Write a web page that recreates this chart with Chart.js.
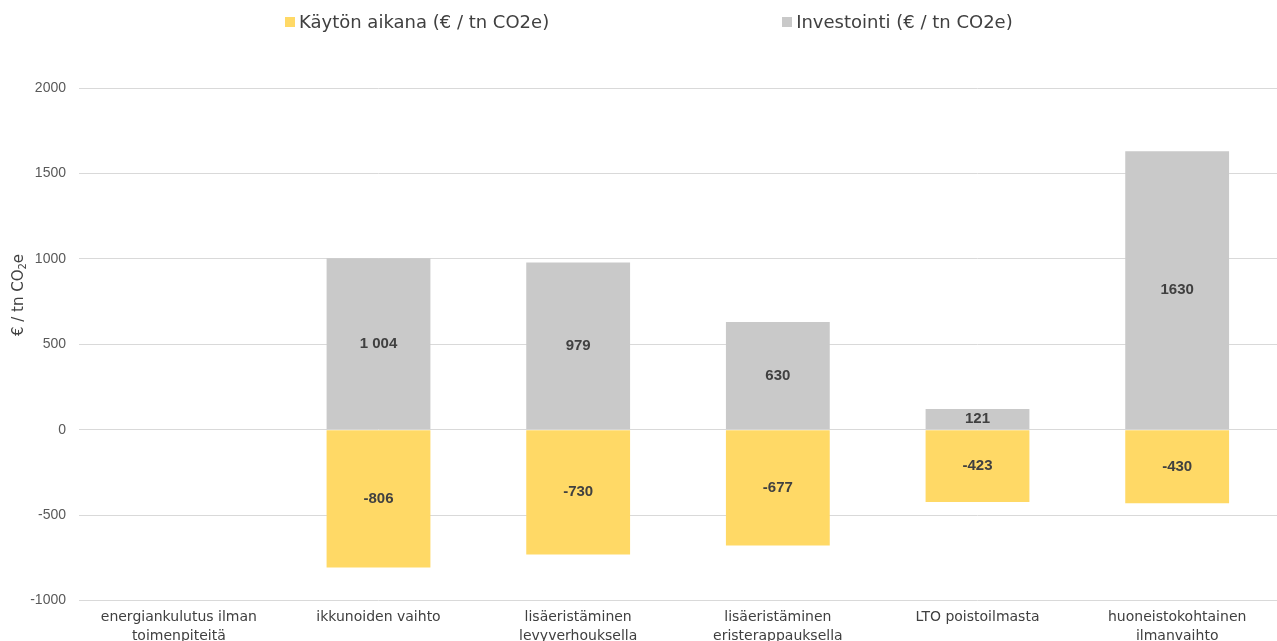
<!DOCTYPE html>
<html>
<head>
<meta charset="utf-8">
<script src="https://cdn.jsdelivr.net/npm/chart.js@4.4.1/dist/chart.umd.min.js"></script>
<style>
  body { margin: 0; width: 1277px; height: 641px; overflow: hidden; background: #fff; }
  .wrap { position: relative; width: 1277px; height: 653px; }
  .legend { position: absolute; top: 11px; left: 285px; display: flex; gap: 233px;
            font-family: "DejaVu Sans", sans-serif; font-size: 18px; color: #404040; }
  .legend span.box { display: inline-block; width: 10px; height: 10px; margin-right: 4px; }
  .legend div { display: flex; align-items: center; white-space: nowrap; }
</style>
</head>
<body>
<div class="wrap">
  <div class="legend" id="legend"></div>
  <canvas id="costChart" width="1277" height="653"></canvas>
</div>
<script>
const categories = [
  ['energiankulutus ilman', 'toimenpiteitä'],
  ['ikkunoiden vaihto'],
  ['lisäeristäminen', 'levyverhouksella'],
  ['lisäeristäminen', 'eristerappauksella'],
  ['LTO poistoilmasta'],
  ['huoneistokohtainen', 'ilmanvaihto']
];
const operating = [null, -806, -730, -677, -423, -430];
const investment = [null, 1004, 979, 630, 121, 1630];
const operatingLabels = ['', '-806', '-730', '-677', '-423', '-430'];
const investmentLabels = ['', '1 004', '979', '630', '121', '1630'];
const yTicks = [-1000, -500, 0, 500, 1000, 1500, 2000];

const seriesNames = ['Käytön aikana (€ / tn CO2e)', 'Investointi (€ / tn CO2e)'];
const seriesColors = ['#FFD966', '#C9C9C9'];

// html legend, two items spread wide
const legendEl = document.getElementById('legend');
seriesNames.forEach((name, i) => {
  const item = document.createElement('div');
  item.innerHTML = '<span class="box" style="background:' + seriesColors[i] + '"></span>' + name;
  legendEl.appendChild(item);
});

const valueLabels = {
  id: 'valueLabels',
  afterDatasetsDraw(chart) {
    const ctx = chart.ctx;
    const texts = [operatingLabels, investmentLabels];
    ctx.save();
    ctx.font = 'bold 15px "Liberation Sans", sans-serif';
    ctx.fillStyle = '#404040';
    ctx.textAlign = 'center';
    ctx.textBaseline = 'middle';
    chart.data.datasets.forEach((ds, di) => {
      chart.getDatasetMeta(di).data.forEach((bar, i) => {
        if (ds.data[i] == null) return;
        ctx.fillText(texts[di][i], bar.x, (bar.y + bar.base) / 2);
      });
    });
    ctx.restore();
  }
};

// rotated axis title with subscript 2
const yTitle = {
  id: 'yTitle',
  afterDraw(chart) {
    const ctx = chart.ctx;
    ctx.save();
    ctx.translate(23, 295);
    ctx.rotate(-Math.PI / 2);
    ctx.fillStyle = '#404040';
    ctx.textBaseline = 'alphabetic';
    const big = '15px "DejaVu Sans", sans-serif';
    const small = '10px "DejaVu Sans", sans-serif';
    ctx.font = big;
    const a = '€ / tn CO', b = 'e';
    const wa = ctx.measureText(a).width;
    const wb = ctx.measureText(b).width;
    ctx.font = small;
    const w2 = ctx.measureText('2').width;
    let x = -(wa + w2 + wb) / 2;
    ctx.font = big;
    ctx.fillText(a, x, 0);
    x += wa;
    ctx.font = small;
    ctx.fillText('2', x, 3);
    x += w2;
    ctx.font = big;
    ctx.fillText(b, x, 0);
    ctx.restore();
  }
};

new Chart(document.getElementById('costChart'), {
  type: 'bar',
  data: {
    labels: categories,
    datasets: [
      { label: seriesNames[0], data: operating, backgroundColor: seriesColors[0] },
      { label: seriesNames[1], data: investment, backgroundColor: seriesColors[1] }
    ]
  },
  options: {
    responsive: false,
    animation: false,
    barPercentage: 0.52,
    categoryPercentage: 1,
    layout: { padding: { top: 88, left: 0, right: -2, bottom: 0 } },
    plugins: { legend: { display: false }, tooltip: { enabled: false } },
    scales: {
      x: {
        stacked: true,
        grid: { display: false, drawTicks: false },
        border: { display: false },
        ticks: {
          color: '#404040',
          font: { family: '"DejaVu Sans", sans-serif', size: 14, lineHeight: 1.3 },
          padding: 8,
          maxRotation: 0,
          autoSkip: false
        }
      },
      y: {
        stacked: true,
        min: -1000,
        max: 2000,
        afterBuildTicks: s => { s.ticks = yTicks.map(v => ({ value: v })); },
        afterFit: s => { s.width = 79; },
        grid: { color: '#D9D9D9', drawTicks: false },
        border: { display: false },
        ticks: {
          color: '#595959',
          font: { family: '"Liberation Sans", sans-serif', size: 14 },
          padding: 13,
          callback: v => String(v)
        }
      }
    }
  },
  plugins: [valueLabels, yTitle]
});
</script>
</body>
</html>
